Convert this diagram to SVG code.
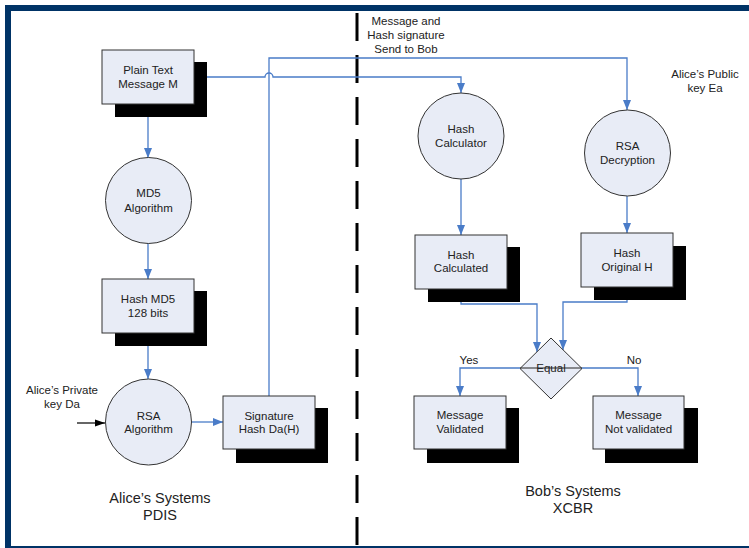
<svg xmlns="http://www.w3.org/2000/svg" width="749" height="548" viewBox="0 0 749 548">
<style>
.box{fill:#E8ECF6;stroke:#333;stroke-width:1}
.sh{fill:#000}
.t{font-family:"Liberation Sans",Arial,sans-serif;font-size:11.5px;fill:#222;text-anchor:middle}
.big{font-family:"Liberation Sans",Arial,sans-serif;font-size:14.5px;fill:#222;text-anchor:middle}
.c{fill:none;stroke:#4A7CC8;stroke-width:1.3}
</style>
<defs>
<marker id="ab" markerUnits="userSpaceOnUse" markerWidth="10" markerHeight="10" viewBox="0 0 10 10" refX="10" refY="5" orient="auto">
<path d="M0,1 L10,5 L0,9 Z" fill="#4A7CC8"/>
</marker>
<marker id="ak" markerUnits="userSpaceOnUse" markerWidth="10" markerHeight="10" viewBox="0 0 10 10" refX="10" refY="5" orient="auto">
<path d="M0,1.5 L10,5 L0,8.5 Z" fill="#000"/>
</marker>
</defs>
<rect x="0" y="0" width="749" height="548" fill="#fff"/>
<rect x="8" y="8" width="760" height="541" fill="none" stroke="#003366" stroke-width="6"/>
<line x1="357" y1="13" x2="357" y2="548" stroke="#000" stroke-width="3" stroke-dasharray="28,14"/>

<g id="connectors">
<path class="c" d="M148,104 V158" marker-end="url(#ab)"/>
<path class="c" d="M148,243 V279" marker-end="url(#ab)"/>
<path class="c" d="M148,333 V379" marker-end="url(#ab)"/>
<path class="c" d="M192,422 H223" marker-end="url(#ab)"/>
<path d="M77,423 H105" fill="none" stroke="#000" stroke-width="1.2" marker-end="url(#ak)"/>
<path class="c" d="M194,77 H265 A4,4 0 0 1 273,77 H461 V93" marker-end="url(#ab)"/>
<path class="c" d="M269,396 V58 H627 V110" marker-end="url(#ab)"/>
<path class="c" d="M461,179 V235" marker-end="url(#ab)"/>
<path class="c" d="M627,196 V233" marker-end="url(#ab)"/>
<path class="c" d="M461,289 V304 H537 V352" marker-end="url(#ab)"/>
<path class="c" d="M627,287 V302 H563 V350" marker-end="url(#ab)"/>
<path class="c" d="M520,368 H460 V396" marker-end="url(#ab)"/>
<path class="c" d="M582,368 H638 V396" marker-end="url(#ab)"/>
</g>

<g id="plain">
<rect class="sh" x="115" y="62" width="92" height="55"/>
<rect class="box" x="102" y="50" width="92" height="54"/>
<text class="t" x="148" y="74">Plain Text</text>
<text class="t" x="148" y="88">Message M</text>
</g>
<g id="md5">
<circle class="box" cx="148.5" cy="200.5" r="43"/>
<text class="t" x="148.5" y="197">MD5</text>
<text class="t" x="148.5" y="212">Algorithm</text>
</g>
<g id="hashmd5">
<rect class="sh" x="115" y="291" width="92" height="55"/>
<rect class="box" x="102" y="279" width="92" height="54"/>
<text class="t" x="148" y="303">Hash MD5</text>
<text class="t" x="148" y="317">128 bits</text>
</g>
<g id="rsa">
<circle class="box" cx="148.5" cy="422" r="43"/>
<text class="t" x="148.5" y="420">RSA</text>
<text class="t" x="148.5" y="433">Algorithm</text>
</g>
<g id="privkey">
<text class="t" x="62" y="394">Alice’s Private</text>
<text class="t" x="62" y="408">key Da</text>
</g>
<g id="signature">
<rect class="sh" x="236" y="408" width="92" height="55"/>
<rect class="box" x="223" y="396" width="92" height="53"/>
<text class="t" x="269" y="420">Signature</text>
<text class="t" x="269" y="433">Hash Da(H)</text>
</g>
<g id="sendlabel">
<text class="t" x="406" y="25">Message and</text>
<text class="t" x="406" y="39">Hash signature</text>
<text class="t" x="406" y="53">Send to Bob</text>
</g>
<g id="pubkey">
<text class="t" x="705" y="78">Alice’s Public</text>
<text class="t" x="705" y="92">key Ea</text>
</g>
<g id="hashcalc">
<circle class="box" cx="461" cy="136" r="43"/>
<text class="t" x="461" y="133">Hash</text>
<text class="t" x="461" y="147">Calculator</text>
</g>
<g id="rsadec">
<circle class="box" cx="627.5" cy="153" r="43"/>
<text class="t" x="627.5" y="150">RSA</text>
<text class="t" x="627.5" y="164">Decryption</text>
</g>
<g id="hashcalculated">
<rect class="sh" x="428" y="247" width="92" height="55"/>
<rect class="box" x="415" y="235" width="92" height="54"/>
<text class="t" x="461" y="259">Hash</text>
<text class="t" x="461" y="272">Calculated</text>
</g>
<g id="hashorig">
<rect class="sh" x="594" y="246" width="92" height="54"/>
<rect class="box" x="581" y="233" width="92" height="54"/>
<text class="t" x="627" y="257">Hash</text>
<text class="t" x="627" y="271">Original H</text>
</g>
<g id="equal">
<polygon class="box" points="551,338 582,368.5 551,399 520,368.5"/>
<line x1="520" y1="368" x2="582" y2="368" stroke="#222" stroke-width="1"/>
<text class="t" x="551" y="372">Equal</text>
</g>
<text class="t" x="469" y="364">Yes</text>
<text class="t" x="634" y="364">No</text>
<g id="validated">
<rect class="sh" x="427" y="408" width="92" height="55"/>
<rect class="box" x="414" y="396" width="92" height="53"/>
<text class="t" x="460" y="419">Message</text>
<text class="t" x="460" y="433">Validated</text>
</g>
<g id="notvalidated">
<rect class="sh" x="605" y="408" width="93" height="55"/>
<rect class="box" x="593" y="396" width="91" height="53"/>
<text class="t" x="638.5" y="419">Message</text>
<text class="t" x="638.5" y="433">Not validated</text>
</g>
<g id="alicesys">
<text class="big" x="160" y="503">Alice’s Systems</text>
<text class="big" x="160" y="520">PDIS</text>
</g>
<g id="bobsys">
<text class="big" x="573" y="496">Bob’s Systems</text>
<text class="big" x="573" y="513">XCBR</text>
</g>
</svg>
